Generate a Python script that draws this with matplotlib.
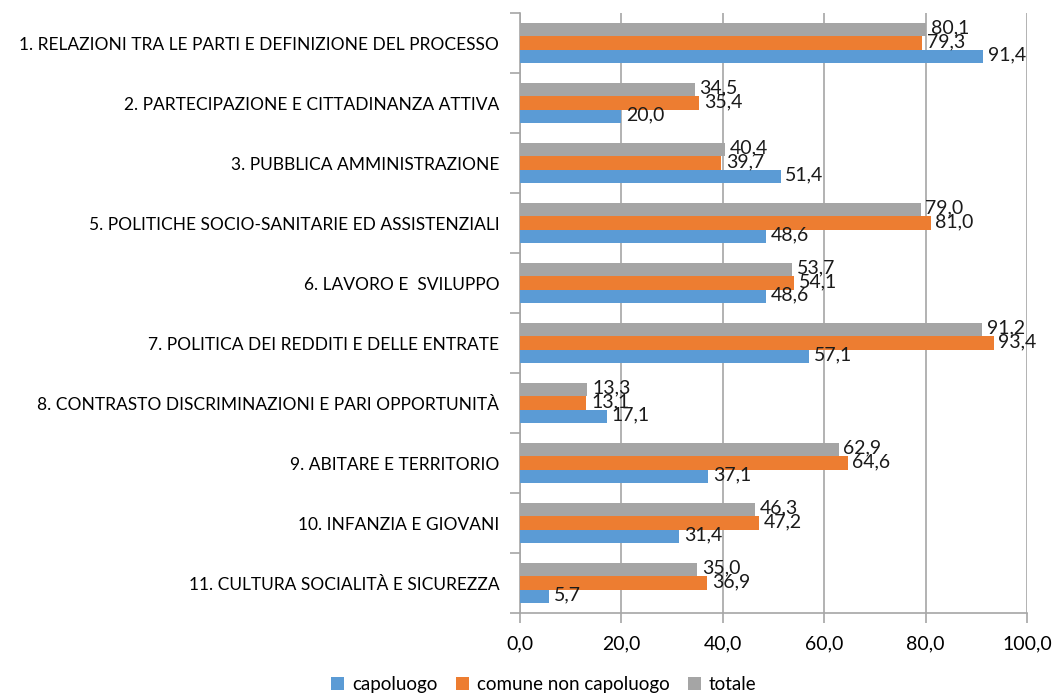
import matplotlib
matplotlib.use("Agg")
import matplotlib.pyplot as plt
import numpy as np

categories = [
    "1. RELAZIONI TRA LE PARTI E DEFINIZIONE DEL PROCESSO",
    "2. PARTECIPAZIONE E CITTADINANZA ATTIVA",
    "3. PUBBLICA AMMINISTRAZIONE",
    "5. POLITICHE SOCIO-SANITARIE ED ASSISTENZIALI",
    "6. LAVORO E  SVILUPPO",
    "7. POLITICA DEI REDDITI E DELLE ENTRATE",
    "8. CONTRASTO DISCRIMINAZIONI E PARI OPPORTUNITÀ",
    "9. ABITARE E TERRITORIO",
    "10. INFANZIA E GIOVANI",
    "11. CULTURA SOCIALITÀ E SICUREZZA",
]
capoluogo = [91.4, 20.0, 51.4, 48.6, 48.6, 57.1, 17.1, 37.1, 31.4, 5.7]
comune_non_capoluogo = [79.3, 35.4, 39.7, 81.0, 54.1, 93.4, 13.1, 64.6, 47.2, 36.9]
totale = [80.1, 34.5, 40.4, 79.0, 53.7, 91.2, 13.3, 62.9, 46.3, 35.0]
series_names = ["capoluogo", "comune non capoluogo", "totale"]
xticks = [0, 20, 40, 60, 80, 100]

colors = ["#5B9BD5", "#ED7D31", "#A5A5A5"]
plt.rcParams['font.family'] = ['Lato', 'DejaVu Sans']

fig = plt.figure(figsize=(10.54, 6.96), dpi=100)
ax = fig.add_axes([520/1054, 1-613/696, (1027-520)/1054, (613-13)/696])

n = len(categories)
y = np.arange(n)
h = 0.225
offsets = [h, 0, -h]  # capoluogo bottom, orange middle, gray top (y inverted)
series = [capoluogo, comune_non_capoluogo, totale]
for vals, off, col, name in zip(series, offsets, colors, series_names):
    bars = ax.barh(y + off, vals, height=h, color=col, label=name, zorder=3)
    for b, v in zip(bars, vals):
        ax.text(v + 0.9, b.get_y() + b.get_height()/2 - 0.02, f"{v:.1f}".replace(".", ","),
                va="center", ha="left", fontsize=14, color="#1a1a1a", zorder=4)

ax.set_ylim(n - 0.5, -0.5)
ax.set_xlim(0, 100)
ax.set_xticks(xticks)
ax.set_xticklabels([f"{t:.1f}".replace(".", ",") for t in xticks], fontsize=14)
ax.grid(axis="x", color="#A6A6A6", linewidth=1.2, zorder=0)
ax.set_yticks(y)
ax.set_yticklabels(categories, fontsize=12.5)
ax.set_yticks(np.arange(n + 1) - 0.5, minor=True)
ax.tick_params(axis="y", which="major", length=0, pad=15)
ax.tick_params(axis="y", which="minor", length=7, width=1.2, color="#A6A6A6")
ax.tick_params(axis="x", length=7, width=1.2, color="#A6A6A6", pad=9)
for s in ["top", "right"]:
    ax.spines[s].set_visible(False)
for s in ["left", "bottom"]:
    ax.spines[s].set_color("#A6A6A6")
    ax.spines[s].set_linewidth(1.2)

fig.legend(loc="lower center", bbox_to_anchor=(0.516, -0.02), ncol=3, frameon=False,
           fontsize=13.5, handlelength=0.7, handleheight=0.7, handletextpad=0.4, columnspacing=1.0)

fig.savefig("out.png", dpi=100)
